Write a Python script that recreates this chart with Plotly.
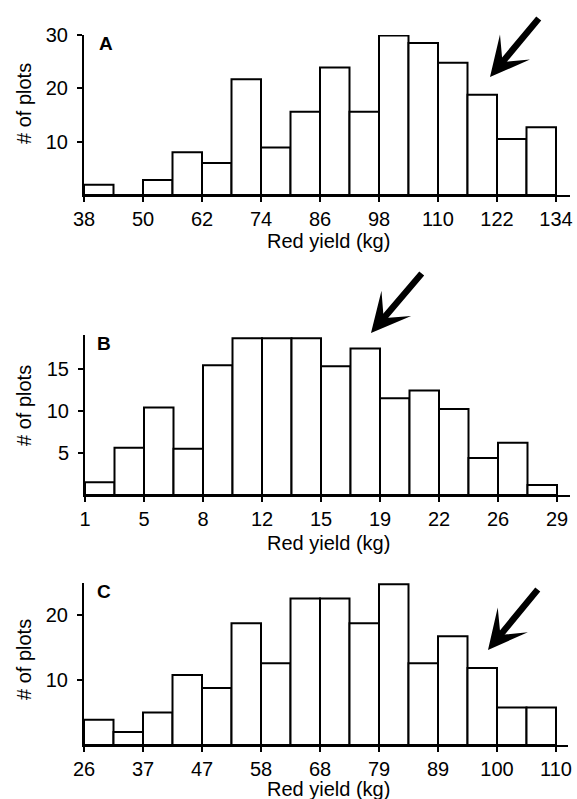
import plotly.graph_objects as go

W, H = 577, 799

# ---------------- data ----------------
a_start, a_width = 38, 6
a_counts = [1.9, 0, 2.8, 8, 6, 21.7, 8.9, 15.6, 23.9, 15.6, 29.9, 28.5, 24.8, 18.8, 10.5, 12.7]
a_tickvals = [38, 50, 62, 74, 86, 98, 110, 122, 134]
a_ticktext = ["38", "50", "62", "74", "86", "98", "110", "122", "134"]
a_yticks = [10, 20, 30]

b_start, b_width = 1, 1.75
b_counts = [1.5, 5.6, 10.4, 5.5, 15.4, 18.6, 18.6, 18.6, 15.3, 17.4, 11.5, 12.4, 10.2, 4.4, 6.2, 1.2]
b_tickvals = [1, 4.5, 8, 11.5, 15, 18.5, 22, 25.5, 29]
b_ticktext = ["1", "5", "8", "12", "15", "19", "22", "26", "29"]
b_yticks = [5, 10, 15]

c_start, c_width = 26, 5.25
c_counts = [3.9, 2, 5, 10.8, 8.8, 18.8, 12.6, 22.6, 22.6, 18.8, 24.8, 12.6, 16.8, 11.9, 5.8, 5.8]
c_tickvals = [26, 36.5, 47, 57.5, 68, 78.5, 89, 99.5, 110]
c_ticktext = ["26", "37", "47", "58", "68", "79", "89", "100", "110"]
c_yticks = [10, 20]

x_title = "Red yield (kg)"
y_title = "# of plots"
panel_labels = ["A", "B", "C"]

FONT = "Liberation Sans, Arial, Helvetica, sans-serif"

panels = [
    dict(start=a_start, width=a_width, counts=a_counts, tv=a_tickvals, tt=a_ticktext, yt=a_yticks,
         px0=84, px1=570, py_top=35, py_bot=195, ymax=30),
    dict(start=b_start, width=b_width, counts=b_counts, tv=b_tickvals, tt=b_ticktext, yt=b_yticks,
         px0=85, px1=570, py_top=335, py_bot=495, ymax=19),
    dict(start=c_start, width=c_width, counts=c_counts, tv=c_tickvals, tt=c_ticktext, yt=c_yticks,
         px0=84, px1=568, py_top=583, py_bot=745, ymax=25),
]
bin_px = 29.5

fig = go.Figure()
annotations = []
layout = {}

for i, p in enumerate(panels):
    n = i + 1
    xa = "x" if n == 1 else f"x{n}"
    ya = "y" if n == 1 else f"y{n}"
    centers = [p["start"] + p["width"] * (k + 0.5) for k in range(len(p["counts"]))]
    fig.add_trace(go.Bar(
        x=centers, y=p["counts"], width=p["width"],
        marker=dict(color="white", line=dict(color="black", width=2)),
        xaxis=xa, yaxis=ya, showlegend=False, hoverinfo="x+y",
    ))
    xmax = p["start"] + (p["px1"] - p["px0"]) / bin_px * p["width"]
    layout["xaxis" if n == 1 else f"xaxis{n}"] = dict(
        domain=[p["px0"] / W, p["px1"] / W], anchor=ya,
        range=[p["start"], xmax], tickvals=p["tv"], ticktext=p["tt"],
        showline=True, linewidth=2, linecolor="black", ticks="outside",
        ticklen=5, tickwidth=2, tickcolor="black", showgrid=False, zeroline=False,
        tickfont=dict(size=20, color="black", family=FONT), fixedrange=True,
        automargin=False,
    )
    layout["yaxis" if n == 1 else f"yaxis{n}"] = dict(
        domain=[1 - p["py_bot"] / H, 1 - p["py_top"] / H], anchor=xa,
        range=[0, p["ymax"]], tickvals=p["yt"],
        showline=True, linewidth=2, linecolor="black", ticks="outside",
        ticklen=5, tickwidth=2, tickcolor="black", showgrid=False, zeroline=False,
        tickfont=dict(size=20, color="black", family=FONT), fixedrange=True,
        ticklabelstandoff=5, automargin=False,
    )

def px(x):
    return x / W

def py(y):
    return 1 - y / H

for yc in [241, 543, 789]:
    annotations.append(dict(text=x_title, x=px(328), y=py(yc), xref="paper", yref="paper",
                            showarrow=False, font=dict(size=20, color="black", family=FONT),
                            xanchor="center", yanchor="middle"))
for yc in [104, 406, 660]:
    annotations.append(dict(text=y_title, x=px(24), y=py(yc), xref="paper", yref="paper",
                            showarrow=False, textangle=-90,
                            font=dict(size=20, color="black", family=FONT),
                            xanchor="center", yanchor="middle"))
for lab, (xc, yc) in zip(panel_labels, [(106, 43), (104, 343), (104, 591)]):
    annotations.append(dict(text=f"<b>{lab}</b>", x=px(xc), y=py(yc), xref="paper", yref="paper",
                            showarrow=False, font=dict(size=19, color="black", family=FONT),
                            xanchor="center", yanchor="middle"))
for (tx, ty, ax, ay) in [(490, 77, 50, -60), (371, 333, 52, -61), (488, 650, 51, -62)]:
    annotations.append(dict(text="", x=px(tx), y=py(ty), xref="paper", yref="paper",
                            showarrow=True, arrowhead=3, arrowsize=1, arrowwidth=6.5,
                            arrowcolor="black", ax=ax, ay=ay, standoff=0))

fig.update_layout(
    width=W, height=H, margin=dict(l=0, r=0, t=0, b=0, autoexpand=False),
    paper_bgcolor="white", plot_bgcolor="white", bargap=0,
    font=dict(family=FONT, color="black"),
    annotations=annotations, **layout,
)

fig.write_html(
    "out.html",
    config={"displayModeBar": False, "staticPlot": True},
    post_script="document.body.style.margin='0';document.body.style.overflow='hidden';",
)
